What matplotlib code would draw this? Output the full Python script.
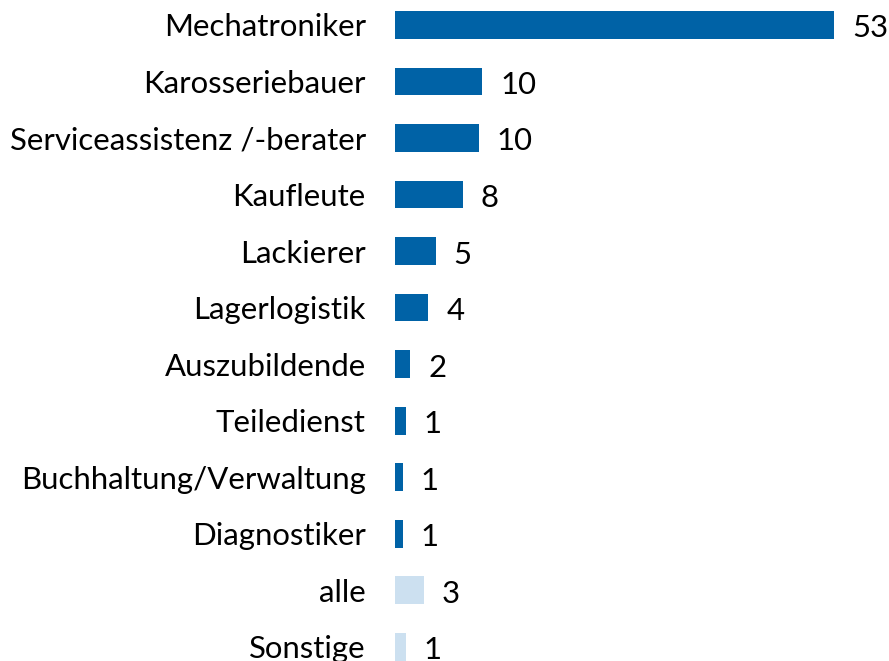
import matplotlib
matplotlib.use("Agg")
import matplotlib.pyplot as plt

categories = ["Mechatroniker", "Karosseriebauer", "Serviceassistenz /-berater",
              "Kaufleute", "Lackierer", "Lagerlogistik", "Auszubildende",
              "Teiledienst", "Buchhaltung/Verwaltung", "Diagnostiker",
              "alle", "Sonstige"]
values = [53.0, 10.5, 10.1, 8.2, 4.9, 4.0, 1.85, 1.3, 0.93, 0.93, 3.45, 1.3]
labels = ["53", "10", "10", "8", "5", "4", "2", "1", "1", "1", "3", "1"]
light = [False] * 10 + [True, True]

DARK = "#0062A6"
LIGHT = "#CCE0F0"

plt.rcParams['font.family'] = ['Lato', 'DejaVu Sans']

W, H = 889, 661
fig = plt.figure(figsize=(W / 100, H / 100), dpi=100)
ax = fig.add_axes([395 / W, 0, 1 - 395 / W, 1])

ypos = list(range(len(categories)))
colors = [LIGHT if l else DARK for l in light]
ax.barh(ypos, values, height=0.49, color=colors)

px_per_unit = 439 / 53.0
ax.set_xlim(0, (W - 395) / px_per_unit)
c0, sp = 24.85, 56.55
ax.set_ylim((H - c0) / sp, -c0 / sp)

ax.set_yticks(ypos)
ax.set_yticklabels(categories, fontsize=22.4, color="black")
ax.tick_params(axis='y', length=0, pad=21)
ax.set_xticks([])
for s in ax.spines.values():
    s.set_visible(False)

for y, v, t in zip(ypos, values, labels):
    ax.annotate(t, (v, y), xytext=(13, -2.5), textcoords="offset points",
                va="center", ha="left", fontsize=22.4, color="black")

fig.savefig("out.png", dpi=100)
